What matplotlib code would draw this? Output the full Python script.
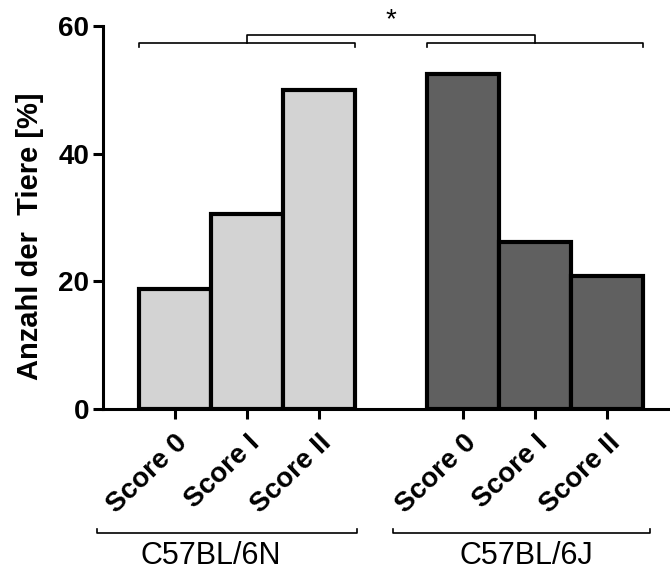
import matplotlib.pyplot as plt

# Anteil der Tiere je Score, zwei Stämme
scores = ['Score 0', 'Score I', 'Score II']
strains = ['C57BL/6N', 'C57BL/6J']
vals_6n = [18.8, 30.5, 50.0]
vals_6j = [52.5, 26.1, 20.8]

plt.rcParams['font.family'] = ['Liberation Sans', 'DejaVu Sans']

fig = plt.figure(figsize=(6.70, 5.71), dpi=100)
ax = fig.add_axes([0.1537, 0.2837, 0.8463, 0.6708])

x1 = [0, 1, 2]
x2 = [4, 5, 6]
ax.bar(x1, vals_6n, width=1.0, color='#d3d3d3', edgecolor='black', linewidth=3.0)
ax.bar(x2, vals_6j, width=1.0, color='#606060', edgecolor='black', linewidth=3.0)

ax.set_xlim(-1.0, 6.875)
ax.set_ylim(0, 60)
ax.set_yticks([0, 20, 40, 60])
ax.set_xticks(x1 + x2)
ax.set_xticklabels(scores + scores, rotation=44, ha='right', rotation_mode='anchor',
                   fontsize=20, fontweight='bold')
for lab in ax.get_yticklabels():
    lab.set_fontsize(20)
    lab.set_fontweight('bold')

for s in ['top', 'right']:
    ax.spines[s].set_visible(False)
for s in ['left', 'bottom']:
    ax.spines[s].set_linewidth(2.2)
ax.tick_params(axis='y', width=2.2, length=7, pad=3)
ax.tick_params(axis='x', width=2.2, length=7, pad=8)

ax.set_ylabel('Anzahl der  Tiere [%]', fontsize=21, fontweight='bold')
ax.yaxis.set_label_coords(-0.104, 0.452)

# Signifikanzklammern oben
kw = dict(color='black', linewidth=1.2, clip_on=False)
ax.plot([-0.5, -0.5, 2.5, 2.5], [56.7, 57.4, 57.4, 56.7], **kw)
ax.plot([3.5, 3.5, 6.5, 6.5], [56.7, 57.4, 57.4, 56.7], **kw)
ax.plot([1, 1, 5, 5], [57.4, 58.6, 58.6, 57.4], **kw)
ax.text(3.0, 58.8, '*', ha='center', va='bottom', fontsize=20)

# Gruppenklammern unten
tr = ax.get_xaxis_transform()
ax.plot([-1.08, -1.08, 2.53, 2.53], [-0.314, -0.324, -0.324, -0.314], transform=tr, **kw)
ax.plot([3.03, 3.03, 6.6, 6.6], [-0.314, -0.324, -0.324, -0.314], transform=tr, **kw)
ax.text(0.49, -0.404, strains[0], transform=tr, ha='center', va='baseline', fontsize=22)
ax.text(4.875, -0.404, strains[1], transform=tr, ha='center', va='baseline', fontsize=22)

fig.savefig('out.png', dpi=100)
